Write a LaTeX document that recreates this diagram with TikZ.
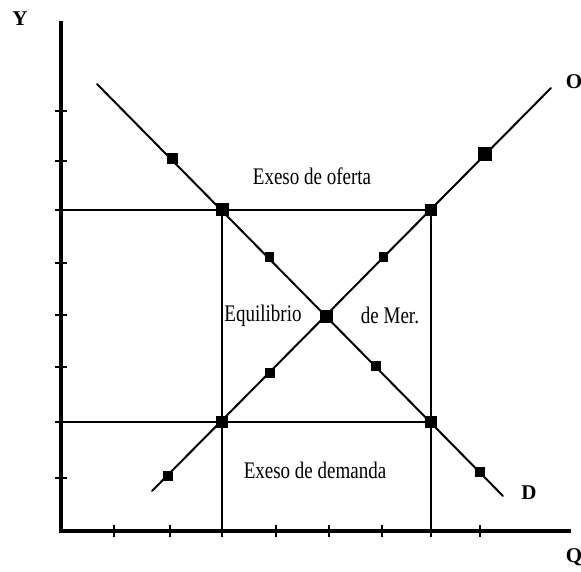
\documentclass[tikz,border=0pt]{standalone}
\usepackage{fontspec}
\setmainfont{Liberation Serif}
\usepackage{graphicx}
\usepackage{tikz}
\usetikzlibrary{backgrounds}

\newcommand{\tall}[1]{\scalebox{1}[1.25]{#1}}

\begin{document}
\begin{tikzpicture}[
  x=1pt, y=-1pt,
  axis/.style={line width=3.2pt, line cap=rect},
  curve/.style={line width=2pt, line cap=round},
  guide/.style={line width=1.3pt},
  tick/.style={line width=1.3pt},
  dot/.style={rectangle, fill=black, inner sep=0pt, minimum size=#1},
  dot/.default=10pt,
  lbl/.style={font=\fontsize{19}{21}\selectfont, inner sep=1pt},
  axlbl/.style={font=\fontsize{21}{23}\selectfont\bfseries, inner sep=0pt},
]
\useasboundingbox (0,0) rectangle (581,572);

% ---- axes ----
\coordinate (origin) at (61,531);
\coordinate (yTop) at (61,23);
\coordinate (xEnd) at (569,531);
\draw[axis] (yTop) -- (origin) -- (xEnd);
\foreach \ty in {111,161,210,263,315,367,422,478}
  \draw[tick] (55,\ty) -- (67,\ty);
\foreach \tx in {114,170,222,276,329,382,431,480}
  \draw[tick] (\tx,525) -- (\tx,537);

\node[axlbl] (labY) at (20,19) {Y};
\node[axlbl] (labQ) at (574,557) {Q};
\node[axlbl] (labO) at (574,82) {O};
\node[axlbl] (labD) at (529,493) {D};

% ---- demand D ----
\coordinate (dTop) at (97,84);
\coordinate (dBot) at (503,496);
\node[dot=11pt] (d1) at (172,159) {};
\node[dot=13pt] (d2) at (222,210) {};
\node[dot=9pt]  (d3) at (269,257) {};
\node[dot=13pt] (eq) at (326,316) {};
\node[dot=10pt] (d5) at (376,366) {};
\node[dot=12pt] (d6) at (431,422) {};
\node[dot=10pt] (d7) at (480,472) {};

% ---- supply O ----
\coordinate (sBot) at (152,491);
\coordinate (sTop) at (551,88);
\node[dot=10pt] (s1) at (168,476) {};
\node[dot=12pt] (s2) at (222,422) {};
\node[dot=10pt] (s3) at (270,373) {};
\node[dot=9pt]  (s5) at (383,257) {};
\node[dot=12pt] (s6) at (431,210) {};
\node[dot=14pt] (s7) at (485,154) {};

\begin{scope}[on background layer]
  \draw[guide] (origin |- d2) -- (s6.center);
  \draw[guide] (origin |- s2) -- (d6.center);
  \draw[guide] (d2.center) -- (d2 |- origin);
  \draw[guide] (s6.center) -- (s6 |- origin);
  \draw[curve] (dTop) -- (dBot);
  \draw[curve] (sBot) -- (sTop);
\end{scope}

% ---- texts ----
\node[lbl] (over) at (312,176) {\tall{Exeso de oferta}};
\node[lbl] (equi) at (263,316) {\tall{Equilibrio}};
\node[lbl] (merc) at (390,315) {\tall{de Mer.}};
\node[lbl] (under) at (315,470) {\tall{Exeso de demanda}};

\end{tikzpicture}
\end{document}
